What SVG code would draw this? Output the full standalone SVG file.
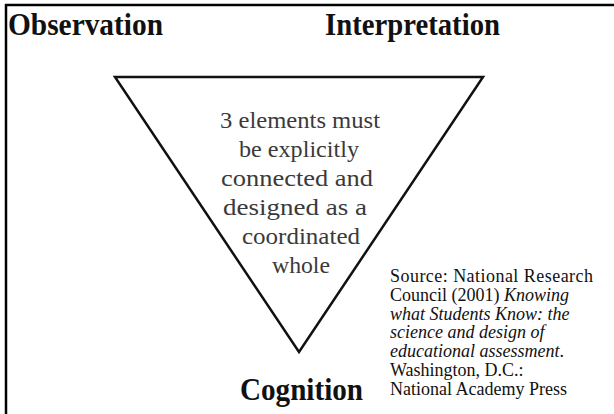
<svg xmlns="http://www.w3.org/2000/svg" width="614" height="414" viewBox="0 0 614 414">
<style>
text{font-family:'Liberation Serif','Times New Roman',Times,serif}
.title{font-weight:bold;font-size:32px;fill:#111}
.inner{font-size:24px;fill:#3a3a3a;text-anchor:middle}
.src{font-size:18px;fill:#111}
.it{font-style:italic}
</style>
<rect width="614" height="414" fill="#fff"/>
<g id="frame" stroke="#000" stroke-width="2.5" fill="none">
<line x1="5" y1="5" x2="614" y2="5"/>
<line x1="6" y1="4" x2="6" y2="414"/>
</g>
<g id="connectors">
<polygon points="115,77 483,77 299,352" fill="none" stroke="#111" stroke-width="2.5" stroke-linejoin="miter"/>
</g>
<g id="observation"><text class="title" x="8" y="35" textLength="155" lengthAdjust="spacingAndGlyphs">Observation</text></g>
<g id="interpretation"><text class="title" x="325" y="35" textLength="175" lengthAdjust="spacingAndGlyphs">Interpretation</text></g>
<g id="cognition"><text class="title" x="240" y="400" textLength="123" lengthAdjust="spacingAndGlyphs">Cognition</text></g>
<g id="center-text">
<text class="inner" x="300" y="128" textLength="160" lengthAdjust="spacingAndGlyphs">3 elements must</text>
<text class="inner" x="299" y="157" textLength="120" lengthAdjust="spacingAndGlyphs">be explicitly</text>
<text class="inner" x="297" y="186" textLength="152" lengthAdjust="spacingAndGlyphs">connected and</text>
<text class="inner" x="295" y="215" textLength="144" lengthAdjust="spacingAndGlyphs">designed as a</text>
<text class="inner" x="301" y="244" textLength="118" lengthAdjust="spacingAndGlyphs">coordinated</text>
<text class="inner" x="301" y="273" textLength="58" lengthAdjust="spacingAndGlyphs">whole</text>
</g>
<g id="source">
<text class="src" x="390" y="282" textLength="203" lengthAdjust="spacing">Source: National Research</text>
<text class="src" x="390" y="300.8">Council (2001) <tspan class="it">Knowing</tspan></text>
<text class="src it" x="390" y="319.6">what Students Know: the</text>
<text class="src it" x="390" y="338.4">science and design of</text>
<text class="src" x="390" y="357.2"><tspan class="it">educational assessment</tspan>.</text>
<text class="src" x="390" y="376">Washington, D.C.:</text>
<text class="src" x="390" y="394.8">National Academy Press</text>
</g>
</svg>
